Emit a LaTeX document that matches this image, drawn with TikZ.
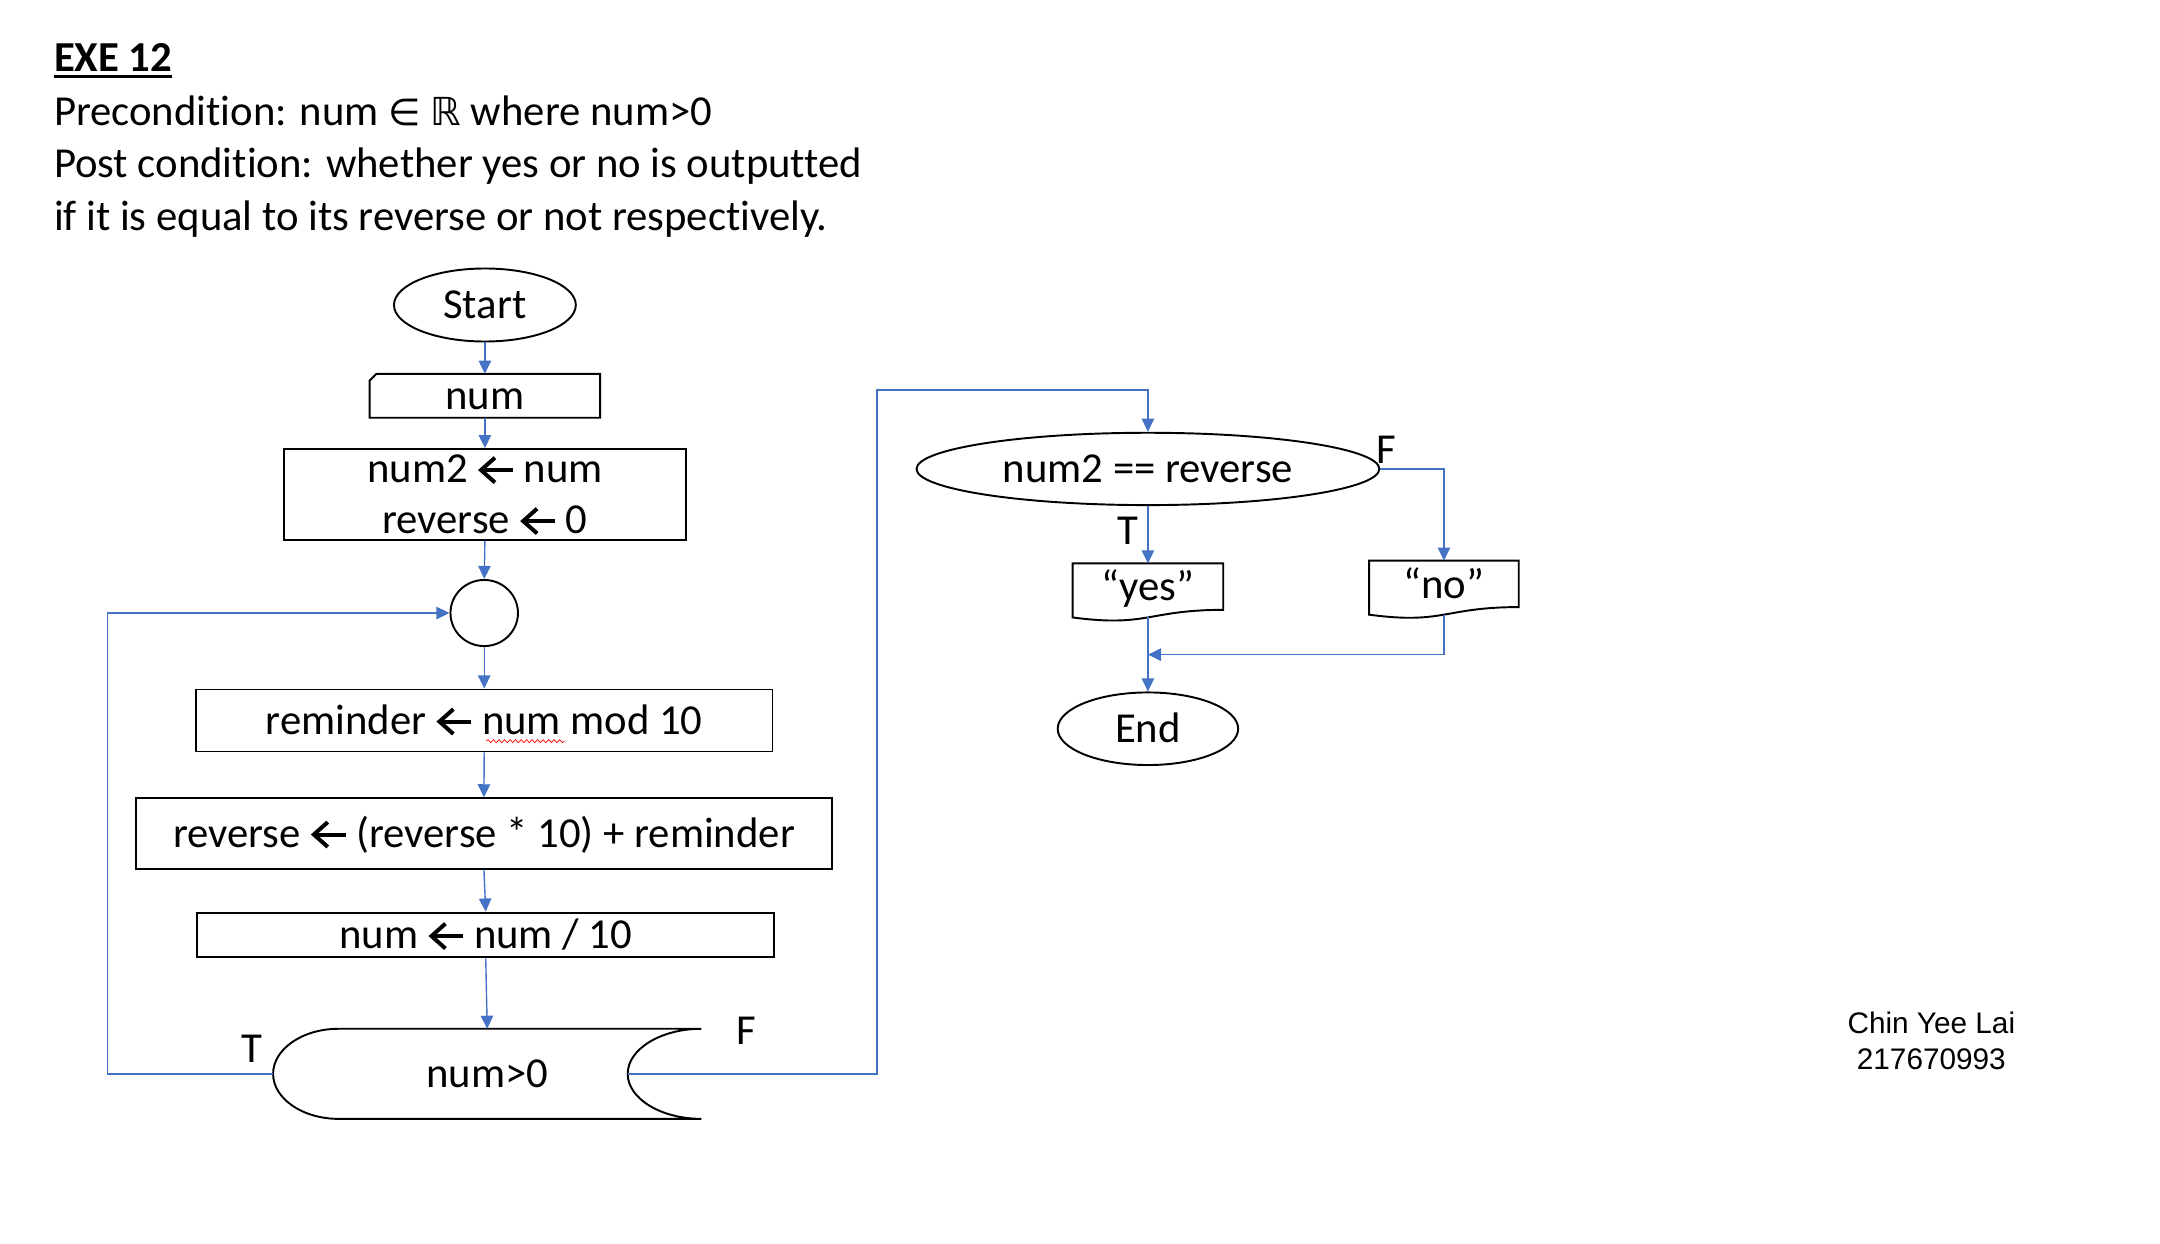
\documentclass[tikz,border=0pt]{standalone}
\usepackage{fontspec}
\setmainfont[Ligatures=NoCommon]{Carlito}
\newfontfamily\symfont{DejaVu Sans}
\newfontfamily\arialfont{Liberation Sans}
\usetikzlibrary{arrows.meta,shapes.geometric,calc,decorations.pathmorphing}
\definecolor{flowblue}{RGB}{68,114,196}
\newcommand{\getsarrow}{\tikz[baseline=0pt,x=1pt,y=1pt]{%
  \useasboundingbox (-0.5,0) rectangle (26,18.5);
  \draw[black, line width=2.9pt, line cap=butt, line join=miter] (12.2,18.2) -- (2.1,9.2) -- (12.2,0.2);
  \draw[black, line width=2.9pt, line cap=butt] (2.3,9.2) -- (25.3,9.2);}}
\newcommand{\docoutline}[1]{%
  \draw[shapeline] (#1.north west) -- (#1.north east) -- ($(#1.north east)+(0,33.7)$)
    .. controls ($(#1.north)+(0,33.7)$) and ($(#1.north)+(0,46.5)$) .. ($(#1.north west)+(0,39.2)$) -- cycle;}
\begin{document}
\begin{tikzpicture}[x=1pt,y=-1pt,
  txt/.style={font=\fontsize{31}{37}\selectfont, inner sep=0pt},
  single/.style={text height=20pt, text depth=0pt},
  shapeline/.style={draw=black, line width=1.4pt},
  box/.style={draw=black, line width=1.4pt, rectangle, inner sep=0pt, txt},
  oval/.style={draw=black, line width=1.4pt, ellipse, inner sep=0pt, txt, single},
  arr/.style={draw=flowblue, line width=1pt, -{Triangle[length=9.5pt,width=9pt]}},
  lbl/.style={txt, anchor=base}]
\useasboundingbox (0,0) rectangle (1568,903);

% header
\node[txt, anchor=base west] (title) at (39,52) {\bfseries EXE 12};
\draw[line width=2pt] ($(title.base west)+(0,3.5)$) -- ($(title.base east)+(0,3.5)$);
\node[txt, anchor=base west] (pre) at (39,91) {Precondition: num {\symfont\fontsize{27}{30}\selectfont ∈} {\symfont\fontsize{28}{30}\selectfont ℝ} where num>0};
\node[txt, anchor=base west] (post) at (39,129) {Post condition: whether yes or no is outputted};
\node[txt, anchor=base west] (post2) at (39,167) {if it is equal to its reverse or not respectively.};

% left column
\node[oval, minimum width=132pt, minimum height=53pt] (start) at (352,221.4) {Start};
\node[txt, single, minimum width=167pt, minimum height=31.5pt] (num) at (352,287.3) {num};
\draw[shapeline] ($(num.north west)+(0,5)$) -- ($(num.north west)+(5,0)$) -- (num.north east) -- (num.south east) -- (num.south west) -- cycle;
\node[box, align=center, minimum width=292pt, minimum height=66pt] (assign) at (352,359) {num2 \getsarrow{} num\\reverse \getsarrow{} 0};
\node[oval, minimum width=49pt, minimum height=48pt] (join) at (351.5,445) {};
\node[box, single, minimum width=418.5pt, minimum height=45pt] (rem) at (351.5,523) {reminder \getsarrow{} num mod 10};
\draw[red, line width=0.5pt, decorate, decoration={snake, amplitude=1.1pt, segment length=4pt}] (353,538) -- (410,538);
\node[box, single, minimum width=505.5pt, minimum height=51pt] (rev) at (351.3,605) {reverse \getsarrow{} (reverse * 10) + reminder};
\node[box, single, minimum width=418.7pt, minimum height=32.5pt] (div) at (352.6,678.7) {num \getsarrow{} num / 10};
\node[txt, single, minimum width=310.5pt, minimum height=65pt] (cond) at (353.7,779.5) {num>0};
\draw[shapeline] (cond.north east) -- ($(cond.north west)+(47.5,0)$)
  .. controls ($(cond.north west)+(21.3,0)$) and ($(cond.west)+(0,-17.9)$) .. (cond.west)
  .. controls ($(cond.west)+(0,17.9)$) and ($(cond.south west)+(21.3,0)$) .. ($(cond.south west)+(47.5,0)$)
  -- (cond.south east)
  .. controls ($(cond.south east)+(-29.5,0)$) and ($(cond.east)+(-53.5,17.9)$) .. ($(cond.east)+(-53.5,0)$)
  .. controls ($(cond.east)+(-53.5,-17.9)$) and ($(cond.north east)+(-29.5,0)$) .. (cond.north east);
\coordinate (condF) at ($(cond.east)+(-53.5,0)$);
\coordinate (loopx) at (78,0);
\coordinate (rise) at (636.5,283);

\node[lbl] (lt) at (183,771) {T};
\node[lbl] (lf) at (542,758) {F};

% right column
\node[oval, minimum width=336pt, minimum height=52.5pt] (eq) at (833.3,340.4) {num2 == reverse};
\node[txt, text height=20pt, text depth=8pt, minimum width=109pt, minimum height=42pt] (yes) at (833.3,430.2) {“yes”};
\docoutline{yes}
\node[txt, text height=20pt, text depth=8pt, minimum width=108.2pt, minimum height=42pt] (no) at (1048.2,428.2) {“no”};
\docoutline{no}
\node[oval, minimum width=131pt, minimum height=52.7pt] (end) at (833.3,529) {End};
\coordinate (yesb) at ($(yes.north)+(0,39.2)$);
\coordinate (nob) at ($(no.north)+(0,39.2)$);
\coordinate (merge) at (833.3,475.2);
\node[lbl] (et) at (819,395) {T};
\node[lbl] (ef) at (1006,336.5) {F};

% author
\node[font=\arialfont\fontsize{21.6}{27}\selectfont, anchor=base, inner sep=0pt] (author) at (1402,750) {Chin Yee Lai};
\node[font=\arialfont\fontsize{21.6}{27}\selectfont, anchor=base, inner sep=0pt] (sid) at (1402,776.7) {217670993};

% connectors
\draw[arr] (start.south) -- (num.north);
\draw[arr] (num.south) -- (assign.north);
\draw[arr] (assign.south) -- (join.north);
\draw[arr] (join.south) -- (rem.north);
\draw[arr] (rem.south) -- (rev.north);
\draw[arr] (rev.south) -- (div.north);
\draw[arr] (div.south) -- (cond.north);
\draw[arr] (cond.west) -- (cond.west -| loopx) |- (join.west);
\draw[arr] (condF) -| (rise) -| (eq.north);
\draw[arr] (eq.south) -- (yes.north);
\draw[arr] (eq.east) -| (no.north);
\draw[arr] (yesb) -- (end.north);
\draw[arr] (nob) |- (merge);
\end{tikzpicture}
\end{document}
